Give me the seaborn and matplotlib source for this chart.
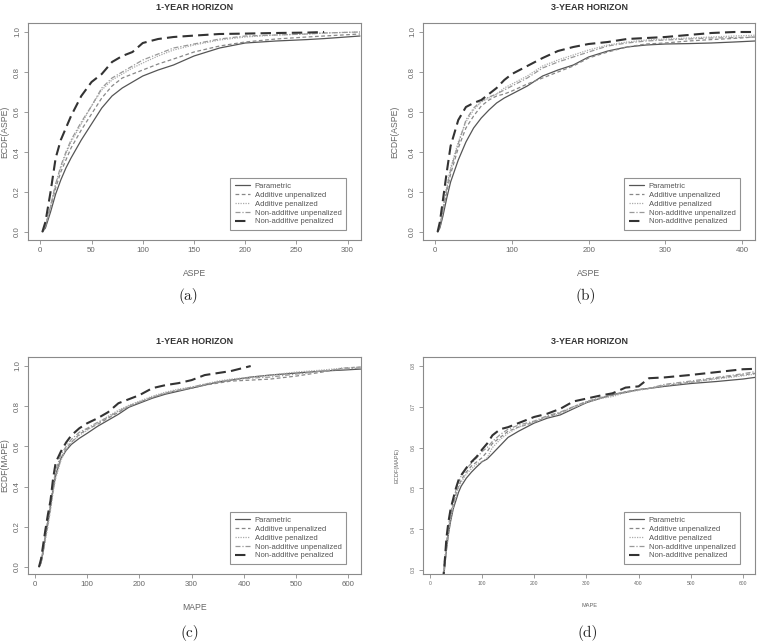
import numpy as np
import pandas as pd
import matplotlib
matplotlib.use("Agg")
import matplotlib.pyplot as plt
import seaborn as sns

############################################################
# DATA
############################################################

series_names = [
    "Parametric",
    "Additive unpenalized",
    "Additive penalized",
    "Non-additive unpenalized",
    "Non-additive penalized",
]

# (a) 1-year horizon, ASPE
aspe1_x = [2, 5, 10, 15, 20, 25, 30, 40, 50, 60, 70, 80, 90, 100, 115, 130, 150, 175, 200, 230, 260, 277, 312]
aspe1_par = [0, 0.02, 0.1, 0.19, 0.26, 0.32, 0.37, 0.46, 0.54, 0.62, 0.68, 0.72, 0.75, 0.78, 0.81, 0.835, 0.88, 0.92, 0.945, 0.955, 0.962, 0.967, 0.98]
aspe1_add_unp = [0, 0.03, 0.12, 0.22, 0.3, 0.36, 0.42, 0.51, 0.59, 0.67, 0.73, 0.77, 0.79, 0.81, 0.84, 0.865, 0.9, 0.93, 0.95, 0.965, 0.975, 0.98, 0.99]
aspe1_add_pen = [0, 0.03, 0.13, 0.24, 0.32, 0.39, 0.45, 0.54, 0.63, 0.71, 0.76, 0.79, 0.82, 0.845, 0.88, 0.91, 0.935, 0.96, 0.975, 0.985, 0.99, 0.995, 1.0]
aspe1_nad_unp = [0, 0.03, 0.13, 0.24, 0.33, 0.4, 0.46, 0.55, 0.63, 0.72, 0.77, 0.8, 0.83, 0.86, 0.89, 0.92, 0.94, 0.965, 0.98, 0.985, 0.99, 0.995, 1.0]
aspe1_nad_pen = [0, 0.05, 0.2, 0.37, 0.46, 0.52, 0.58, 0.68, 0.75, 0.79, 0.85, 0.88, 0.9, 0.945, 0.965, 0.975, 0.982, 0.99, 0.992, 0.995, 0.997, 1.0]

# (b) 3-year horizon, ASPE
aspe3_x = [3, 6, 10, 15, 20, 30, 40, 50, 60, 70, 80, 90, 100, 120, 140, 160, 180, 200, 225, 250, 275, 300, 330, 360, 390, 417]
aspe3_par = [0, 0.02, 0.08, 0.17, 0.25, 0.36, 0.45, 0.52, 0.57, 0.61, 0.645, 0.67, 0.69, 0.73, 0.78, 0.81, 0.835, 0.875, 0.905, 0.925, 0.935, 0.94, 0.942, 0.945, 0.95, 0.955]
aspe3_add_unp = [0, 0.02, 0.1, 0.2, 0.29, 0.42, 0.52, 0.58, 0.63, 0.66, 0.68, 0.69, 0.705, 0.74, 0.77, 0.8, 0.83, 0.87, 0.9, 0.925, 0.94, 0.945, 0.955, 0.962, 0.968, 0.975]
aspe3_add_pen = [0, 0.03, 0.12, 0.23, 0.32, 0.45, 0.55, 0.61, 0.65, 0.67, 0.69, 0.72, 0.74, 0.78, 0.83, 0.86, 0.885, 0.91, 0.935, 0.95, 0.96, 0.965, 0.97, 0.975, 0.98, 0.984]
aspe3_nad_unp = [0, 0.03, 0.11, 0.22, 0.31, 0.44, 0.56, 0.62, 0.655, 0.675, 0.69, 0.71, 0.73, 0.77, 0.82, 0.85, 0.875, 0.9, 0.93, 0.945, 0.955, 0.96, 0.965, 0.97, 0.972, 0.975]
aspe3_nad_pen = [0, 0.05, 0.16, 0.3, 0.43, 0.56, 0.625, 0.645, 0.66, 0.69, 0.72, 0.76, 0.79, 0.83, 0.87, 0.905, 0.925, 0.94, 0.95, 0.965, 0.97, 0.975, 0.985, 0.995, 1.0, 1.0]

# (c) 1-year horizon, MAPE
mape1_x = [8, 12, 16, 20, 25, 30, 35, 40, 50, 60, 70, 85, 100, 120, 140, 160, 180, 200, 225, 250, 275, 300, 325, 350, 375, 413, 450, 500, 550, 590, 624]
mape1_par = [0, 0.02, 0.08, 0.15, 0.22, 0.3, 0.39, 0.46, 0.54, 0.58, 0.61, 0.64, 0.665, 0.7, 0.73, 0.76, 0.795, 0.815, 0.84, 0.86, 0.875, 0.89, 0.905, 0.92, 0.93, 0.945, 0.955, 0.965, 0.975, 0.98, 0.985]
mape1_add_unp = [0, 0.02, 0.07, 0.14, 0.21, 0.29, 0.38, 0.45, 0.54, 0.59, 0.62, 0.66, 0.685, 0.71, 0.74, 0.77, 0.8, 0.82, 0.845, 0.865, 0.88, 0.89, 0.905, 0.915, 0.925, 0.93, 0.935, 0.95, 0.97, 0.99, 0.995]
mape1_add_pen = [0, 0.02, 0.07, 0.13, 0.2, 0.28, 0.37, 0.44, 0.53, 0.585, 0.62, 0.655, 0.68, 0.715, 0.75, 0.78, 0.805, 0.825, 0.85, 0.87, 0.885, 0.895, 0.91, 0.925, 0.935, 0.945, 0.955, 0.97, 0.98, 0.99, 0.995]
mape1_nad_unp = [0, 0.03, 0.09, 0.16, 0.24, 0.32, 0.41, 0.48, 0.56, 0.6, 0.635, 0.67, 0.69, 0.72, 0.745, 0.775, 0.8, 0.82, 0.845, 0.865, 0.88, 0.895, 0.91, 0.92, 0.93, 0.94, 0.945, 0.96, 0.975, 0.985, 0.99]
mape1_nad_pen = [0, 0.04, 0.11, 0.18, 0.26, 0.33, 0.44, 0.52, 0.575, 0.62, 0.655, 0.69, 0.715, 0.74, 0.77, 0.815, 0.835, 0.855, 0.89, 0.905, 0.915, 0.93, 0.955, 0.965, 0.975, 1.0]

# (d) 3-year horizon, MAPE
mape3_x = [25, 28, 32, 36, 40, 45, 50, 55, 60, 70, 80, 90, 100, 110, 120, 135, 150, 170, 200, 225, 250, 275, 300, 325, 350, 375, 400, 420, 450, 500, 550, 600, 623]
mape3_par = [0.27, 0.3, 0.35, 0.39, 0.42, 0.45, 0.47, 0.49, 0.505, 0.525, 0.54, 0.553, 0.565, 0.572, 0.585, 0.605, 0.625, 0.64, 0.66, 0.672, 0.68, 0.695, 0.71, 0.72, 0.73, 0.735, 0.742, 0.745, 0.75, 0.757, 0.762, 0.768, 0.772]
mape3_add_unp = [0.27, 0.31, 0.36, 0.4, 0.43, 0.46, 0.485, 0.505, 0.52, 0.54, 0.555, 0.565, 0.575, 0.59, 0.61, 0.625, 0.64, 0.65, 0.662, 0.675, 0.685, 0.7, 0.712, 0.72, 0.728, 0.737, 0.742, 0.745, 0.752, 0.76, 0.77, 0.778, 0.782]
mape3_add_pen = [0.27, 0.3, 0.35, 0.39, 0.425, 0.455, 0.48, 0.5, 0.515, 0.535, 0.548, 0.56, 0.565, 0.575, 0.6, 0.62, 0.635, 0.65, 0.663, 0.675, 0.683, 0.697, 0.71, 0.72, 0.725, 0.735, 0.74, 0.745, 0.752, 0.76, 0.768, 0.776, 0.78]
mape3_nad_unp = [0.27, 0.32, 0.37, 0.41, 0.44, 0.47, 0.495, 0.515, 0.53, 0.548, 0.562, 0.575, 0.59, 0.6, 0.615, 0.632, 0.645, 0.655, 0.665, 0.678, 0.687, 0.7, 0.713, 0.722, 0.73, 0.737, 0.742, 0.745, 0.755, 0.763, 0.772, 0.781, 0.786]
mape3_nad_pen = [0.27, 0.31, 0.38, 0.42, 0.45, 0.475, 0.5, 0.52, 0.532, 0.55, 0.565, 0.578, 0.595, 0.61, 0.63, 0.645, 0.65, 0.66, 0.675, 0.683, 0.695, 0.713, 0.72, 0.727, 0.733, 0.747, 0.75, 0.77, 0.772, 0.778, 0.785, 0.792, 0.793]

############################################################
# STYLE
############################################################

sns.set_style("white")
plt.rcParams["font.family"] = ["Liberation Sans", "DejaVu Sans"]

line_styles = {
    "Parametric": dict(color="#555555", linewidth=0.9, linestyle="-"),
    "Additive unpenalized": dict(color="#888888", linewidth=0.9, linestyle=(0, (3, 2))),
    "Additive penalized": dict(color="#aaaaaa", linewidth=0.9, linestyle=(0, (1, 1))),
    "Non-additive unpenalized": dict(color="#999999", linewidth=0.9, linestyle=(0, (4, 1.5, 1, 1.5))),
    "Non-additive penalized": dict(color="#333333", linewidth=1.5, linestyle=(0, (5, 2.5))),
}

panels = [
    dict(x=aspe1_x, ys=[aspe1_par, aspe1_add_unp, aspe1_add_pen, aspe1_nad_unp, aspe1_nad_pen],
         title="1-YEAR HORIZON", xlabel="ASPE", ylabel="ECDF(ASPE)",
         xlim=(-12, 313), ylim=(-0.04, 1.045), xticks=np.arange(0, 301, 50),
         yticks=np.arange(0, 1.01, 0.2), fs=5.7, cap="(a)", rect=(28, 23, 361, 240), capx=188, capy=296),
    dict(x=aspe3_x, ys=[aspe3_par, aspe3_add_unp, aspe3_add_pen, aspe3_nad_unp, aspe3_nad_pen],
         title="3-YEAR HORIZON", xlabel="ASPE", ylabel="ECDF(ASPE)",
         xlim=(-16, 417), ylim=(-0.04, 1.045), xticks=np.arange(0, 401, 100),
         yticks=np.arange(0, 1.01, 0.2), fs=5.7, cap="(b)", rect=(423, 23, 755, 240), capx=586, capy=296),
    dict(x=mape1_x, ys=[mape1_par, mape1_add_unp, mape1_add_pen, mape1_nad_unp, mape1_nad_pen],
         title="1-YEAR HORIZON", xlabel="MAPE", ylabel="ECDF(MAPE)",
         xlim=(-13, 624), ylim=(-0.035, 1.045), xticks=np.arange(0, 601, 100),
         yticks=np.arange(0, 1.01, 0.2), fs=5.7, cap="(c)", rect=(28, 357, 361, 574), capx=190, capy=633),
    dict(x=mape3_x, ys=[mape3_par, mape3_add_unp, mape3_add_pen, mape3_nad_unp, mape3_nad_pen],
         title="3-YEAR HORIZON", xlabel="MAPE", ylabel="ECDF(MAPE)",
         xlim=(-13, 623), ylim=(0.29, 0.822), xticks=np.arange(0, 601, 100),
         yticks=np.arange(0.3, 0.81, 0.1), fs=3.6, cap="(d)", rect=(423, 357, 755, 574), capx=588, capy=633),
]

W, H = 758, 642
fig = plt.figure(figsize=(W / 100, H / 100), dpi=100)

for p in panels:
    x0, y0, x1, y1 = p["rect"]
    ax = fig.add_axes([x0 / W, 1 - y1 / H, (x1 - x0) / W, (y1 - y0) / H])

    for name, y in zip(series_names, p["ys"]):
        df = pd.DataFrame({"x": p["x"][:len(y)], "y": y})
        sns.lineplot(data=df, x="x", y="y", ax=ax, sort=False, estimator=None,
                     label=name, **line_styles[name])

    ax.set_xlim(*p["xlim"])
    ax.set_ylim(*p["ylim"])
    ax.set_xticks(p["xticks"])
    ax.set_yticks(p["yticks"])
    ax.set_yticklabels([f"{v:.1f}" for v in p["yticks"]])

    for s in ax.spines.values():
        s.set_color("#8a8a8a")
        s.set_linewidth(0.8)
    ax.tick_params(length=3, width=0.6, color="#8a8a8a", labelcolor="#666666",
                   labelsize=p["fs"], pad=2, direction="out", bottom=True, left=True)
    ax.tick_params(axis="y", labelrotation=90)
    plt.setp(ax.get_yticklabels(), va="center")

    hpx, wpx = y1 - y0, x1 - x0
    ax.set_xlabel(p["xlabel"], fontsize=p["fs"] + 0.5, color="#666666")
    ax.set_ylabel(p["ylabel"], fontsize=p["fs"] + 0.5, color="#666666")
    ax.xaxis.set_label_coords(0.5, -29 / hpx)
    # keep the rotated label inside the figure for the left-hand panels
    ax.yaxis.set_label_coords(-min(24, x0 - 9) / wpx, 0.5)

    ax.text(0.5, 1 + 16 / hpx, p["title"], transform=ax.transAxes, ha="center",
            va="center", fontsize=6.5, fontweight="bold", color="#333333")

    leg = ax.legend(loc="lower right", bbox_to_anchor=(1 - 15 / wpx, 10 / hpx),
                    borderaxespad=0, fontsize=5.5, frameon=True, fancybox=False,
                    handlelength=2.0, labelspacing=0.2, borderpad=0.6,
                    handletextpad=0.6)
    leg.get_frame().set_edgecolor("#777777")
    leg.get_frame().set_linewidth(0.8)
    for t in leg.get_texts():
        t.set_color("#555555")

    fig.text(p["capx"] / W, 1 - p["capy"] / H, p["cap"], ha="center", va="center",
             fontsize=11, family=["cmr10", "DejaVu Serif"])

fig.savefig("out.png", dpi=100)
